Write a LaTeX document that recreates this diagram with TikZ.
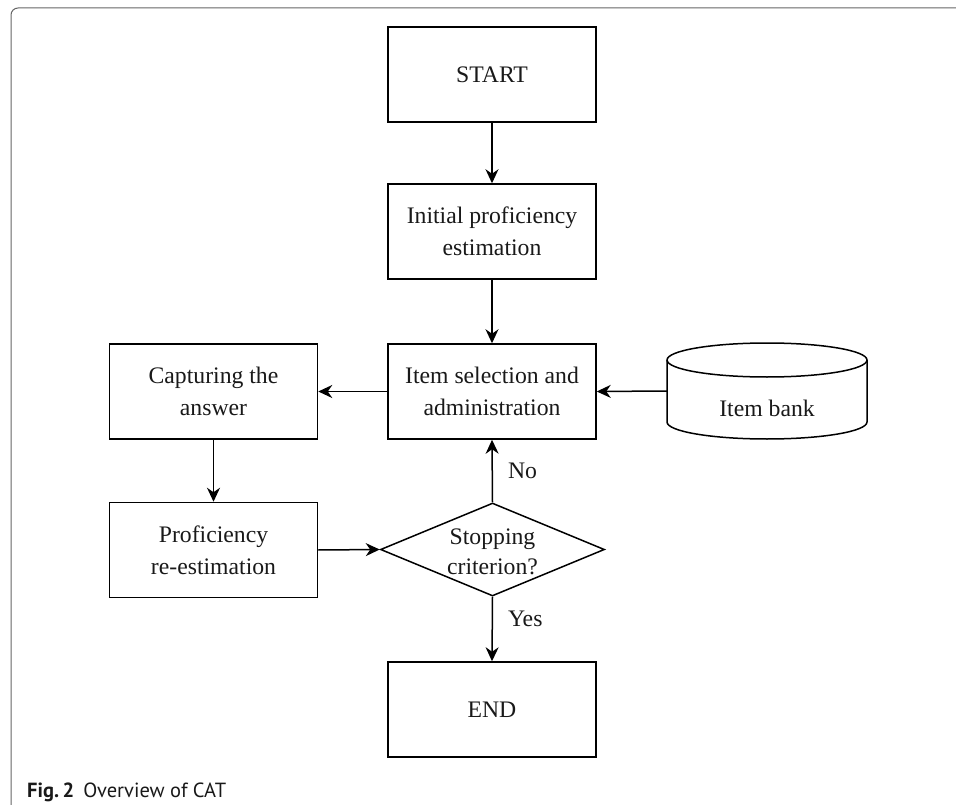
\documentclass[tikz,border=0pt]{standalone}
\usepackage{fontspec}
\setmainfont{Liberation Serif}
\newfontfamily\capfont{PT Sans}
\usetikzlibrary{shapes.geometric,arrows.meta}
\begin{document}
\begin{tikzpicture}[x=1pt,y=-1pt,
  every node/.style={font=\fontsize{23.7}{32}\selectfont, text=black!90},
  procbox/.style={draw, line width=1.5pt, minimum width=208pt, minimum height=95pt, inner sep=0pt, align=center},
  decision/.style={draw, diamond, line width=1.5pt, minimum width=224pt, minimum height=93pt, inner sep=0pt},
  conn/.style={line width=1.5pt, -{Stealth[length=14pt,width=13pt,inset=4.5pt]}},
  lbl/.style={inner sep=0pt, anchor=west},
  bankline/.style={line width=1.5pt}
]
\useasboundingbox (0,0) rectangle (956,805);
% frame
\draw[line width=1pt, black!60, rounded corners=7pt] (956,8) -- (11,8) -- (11,806);

\node[procbox] (start) at (492,74.5) {START};
\node[procbox] (init) at (492,231.5) {Initial proficiency\\estimation};
\node[procbox] (sel) at (492,391.5) {Item selection and\\administration};
\node[procbox] (cap) at (213.5,391.5) {Capturing the\\answer};
\node[procbox] (prof) at (213.5,550) {Proficiency\\re-estimation};
\node[decision] (stop) at (492.5,549.5) {};
\node[align=center, inner sep=0pt, font=\fontsize{23.7}{30}\selectfont] (stoptext) at (492.5,552) {Stopping\\criterion?};
\node[procbox] (end) at (492,709.5) {END};

% item bank cylinder
\node[minimum width=200pt, minimum height=96pt, inner sep=0pt] (bank) at (767,391) {};
\draw[bankline] (667,360) arc[start angle=180, end angle=-180, x radius=100pt, y radius=17pt];
\draw[bankline] (667,360) -- (667,422) arc[start angle=180, end angle=360, x radius=100pt, y radius=17pt] -- (867,360);
\node[inner sep=0pt] (banktext) at (767,408) {Item bank};

\draw[conn] (start) -- (init);
\draw[conn] (init) -- (sel);
\draw[conn] (sel) -- (cap);
\draw[conn] (bank.west) -- (sel.east);
\draw[conn] (cap) -- (prof);
\draw[conn] (prof.east) -- (stop.west);
\draw[conn] (stop.north) -- node[lbl, xshift=15pt] (no) {No} (sel.south);
\draw[conn] (stop.south) -- node[lbl, xshift=15pt, yshift=10pt] (yes) {Yes} (end.north);

\node[anchor=base west, inner sep=0pt, font=\capfont\fontsize{20.5}{24}\selectfont] (caption) at (27,797) {\textbf{Fig.\,2}\hspace{0.45em}Overview of CAT};
\end{tikzpicture}
\end{document}
